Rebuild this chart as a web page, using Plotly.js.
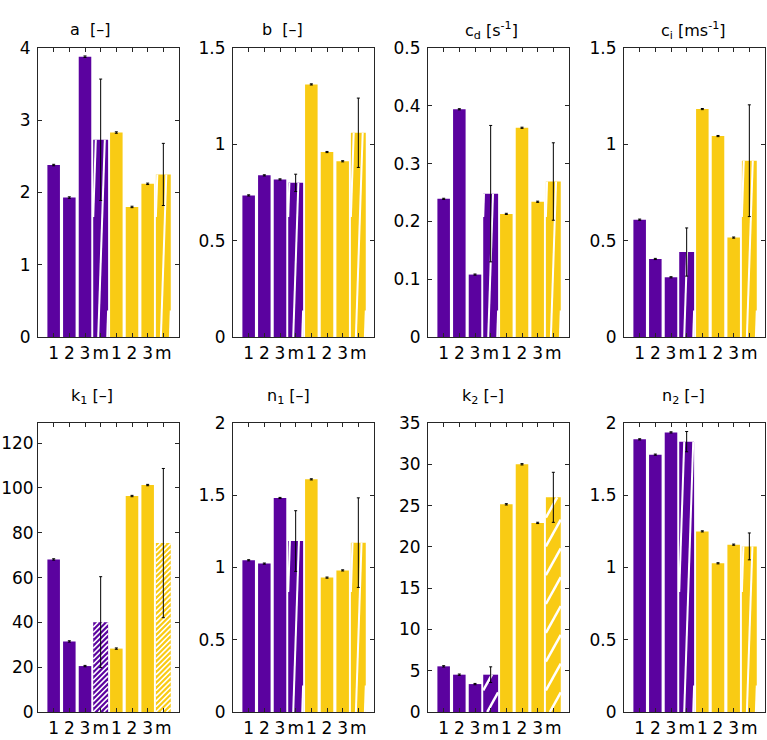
<!DOCTYPE html>
<html>
<head>
<meta charset="utf-8">
<script src="https://cdn.plot.ly/plotly-3.0.1.min.js"></script>
<style>html,body{margin:0;padding:0;background:#fff;}#chart{width:767px;height:740px;}</style>
</head>
<body>
<div id="chart"></div>
<script>
// ---------- data ----------
const barLabels = ['1','2','3','m','1','2','3','m'];
const barGroups = ['purple','purple','purple','purple','yellow','yellow','yellow','yellow'];

const aVals  = [2.38, 1.93, 3.88, 2.73, 2.83, 1.80, 2.12, 2.25];
const aErr   = [0.01, 0.01, 0.01, 0.84, 0.01, 0.01, 0.01, 0.43];
const bVals  = [0.735, 0.839, 0.818, 0.800, 1.311, 0.960, 0.912, 1.060];
const bErr   = [0.003, 0.003, 0.003, 0.045, 0.003, 0.003, 0.003, 0.180];
const cdVals = [0.239, 0.394, 0.108, 0.248, 0.213, 0.362, 0.234, 0.269];
const cdErr  = [0.001, 0.001, 0.001, 0.118, 0.001, 0.001, 0.001, 0.067];
const ciVals = [0.609, 0.405, 0.310, 0.441, 1.183, 1.043, 0.516, 0.915];
const ciErr  = [0.003, 0.003, 0.003, 0.125, 0.003, 0.003, 0.003, 0.290];
const k1Vals = [68.1, 31.5, 20.5, 40.1, 28.3, 96.4, 101.3, 75.4];
const k1Err  = [0.3, 0.3, 0.3, 20.3, 0.3, 0.3, 0.3, 33.3];
const n1Vals = [1.050, 1.027, 1.481, 1.183, 1.610, 0.930, 0.980, 1.172];
const n1Err  = [0.004, 0.004, 0.004, 0.210, 0.004, 0.004, 0.004, 0.310];
const k2Vals = [5.53, 4.52, 3.38, 4.52, 25.15, 30.0, 22.9, 26.0];
const k2Err  = [0.08, 0.08, 0.08, 0.95, 0.08, 0.08, 0.08, 3.03];
const n2Vals = [1.887, 1.781, 1.935, 1.871, 1.250, 1.029, 1.158, 1.146];
const n2Err  = [0.004, 0.004, 0.004, 0.070, 0.004, 0.004, 0.004, 0.093];

const panelTitles = ['a\u00a0\u00a0[\u2013]', 'b\u00a0\u00a0[\u2013]', 'c<sub>d</sub> [s<sup>-1</sup>]', 'c<sub>i</sub> [ms<sup>-1</sup>]',
                     'k<sub>1</sub> [\u2013]', 'n<sub>1</sub> [\u2013]', 'k<sub>2</sub> [\u2013]', 'n<sub>2</sub> [\u2013]'];
const yTickSets = [[0,1,2,3,4],[0,0.5,1,1.5],[0,0.1,0.2,0.3,0.4,0.5],[0,0.5,1,1.5],
                   [0,20,40,60,80,100,120],[0,0.5,1,1.5,2],[0,5,10,15,20,25,30,35],[0,0.5,1,1.5,2]];
const yMax = [4, 1.5, 0.5, 1.5, 129, 2, 35, 2];

const allVals = [aVals,bVals,cdVals,ciVals,k1Vals,n1Vals,k2Vals,n2Vals];
const allErr  = [aErr,bErr,cdErr,ciErr,k1Err,n1Err,k2Err,n2Err];

// ---------- layout / style ----------
const W = 767, H = 740;
const colLeft = [38, 233, 428, 624], rowTop = [48, 423];
const axW = 141, axH = 289;
const titleX = [89.5, 282, 491.5, 693.5, 92, 288.5, 483, 683];
const titleY = [29, 29, 30, 30, 397, 397, 397, 397];
const yStandoff = [3, 3, 3, 3, 0, 3, 3, 3];
const colors = {purple:'#5B029F', yellow:'#F9CB14'};
const axisColor = '#262626';
const font = 'DejaVu Sans, Liberation Sans, Arial, sans-serif';
// hatch styles per panel: slope (px/px), horizontal spacing (px), offset (px), line width
const hatchStyle = [
  {s:30, hs:9, off:5, lw:2}, {s:30, hs:9, off:5, lw:2}, {s:30, hs:9, off:5, lw:2}, {s:30, hs:9, off:5, lw:2},
  {s:1.0, hs:5.3, off:0, lw:1.6}, {s:30, hs:9, off:5, lw:2}, {s:1.8, hs:16, off:4, lw:2.5}, {s:30, hs:9, off:5, lw:2}
];
const barW = [0.8,0.8,0.8,0.95,0.8,0.8,0.8,0.95];
const xPos = barLabels.map((_, i) => i + 1);

const traces = [];
const layout = {
  width: W, height: H, margin:{l:0,r:0,t:0,b:0},
  paper_bgcolor:'#fff', plot_bgcolor:'#fff', showlegend:false,
  font:{family:font, color:'#000'}, annotations:[]
};

function hatch(p, xc, w, h, st) {
  const ppx = axW / 9, ppy = axH / yMax[p];
  const xl = (xc - w/2) * ppx, bw = w * ppx, Hb = h * ppy;
  const xs = [], ys = [];
  const kMin = Math.floor((-Hb / st.s - st.off) / st.hs) - 1;
  const kMax = Math.ceil((bw - st.off) / st.hs) + 1;
  for (let k = kMin; k <= kMax; k++) {
    const x0 = st.off + k * st.hs;
    const u0 = Math.max(0, x0), u1 = Math.min(bw, x0 + Hb / st.s);
    if (u1 <= u0) continue;
    xs.push((xl + u0) / ppx, (xl + u1) / ppx, null);
    ys.push(st.s * (u0 - x0) / ppy, st.s * (u1 - x0) / ppy, null);
  }
  return {xs, ys};
}

for (let p = 0; p < 8; p++) {
  const row = Math.floor(p / 4), col = p % 4;
  const xa = 'x' + (p + 1), ya = 'y' + (p + 1);
  const vals = allVals[p], err = allErr[p];
  traces.push({
    type:'bar', x:xPos, y:vals, width:barW, xaxis:xa, yaxis:ya,
    marker:{color:barGroups.map(g => colors[g]), line:{width:0}}, hoverinfo:'skip'
  });
  const hx = [], hy = [];
  barLabels.forEach((lab, i) => {
    if (lab !== 'm') return;
    const r = hatch(p, xPos[i], barW[i], vals[i], hatchStyle[p]);
    hx.push(...r.xs); hy.push(...r.ys);
  });
  traces.push({type:'scatter', mode:'lines', x:hx, y:hy, xaxis:xa, yaxis:ya,
    line:{color:'#fff', width:hatchStyle[p].lw}, hoverinfo:'skip', connectgaps:false});
  traces.push({type:'scatter', mode:'markers', x:xPos, y:vals, xaxis:xa, yaxis:ya,
    marker:{size:1, color:'rgba(0,0,0,0)'}, hoverinfo:'skip',
    error_y:{type:'data', array:err, visible:true, color:'#000', thickness:1, width:1.5}});

  const x0 = colLeft[col] / W, x1 = (colLeft[col] + axW) / W;
  const y1 = 1 - rowTop[row] / H, y0 = 1 - (rowTop[row] + axH) / H;
  const common = {showline:true, mirror:'ticks', linecolor:axisColor, linewidth:1,
    ticks:'inside', ticklen:4, tickcolor:axisColor, tickwidth:1, showgrid:false, zeroline:false,
    tickfont:{family:font, size:17, color:'#000'}, fixedrange:true};
  layout['xaxis' + (p + 1)] = Object.assign({}, common, {
    domain:[x0, x1], anchor:ya, range:[0, 9], tickmode:'array', tickvals:xPos, ticktext:barLabels,
    tickangle:0, ticklabelstandoff:1});
  layout['yaxis' + (p + 1)] = Object.assign({}, common, {
    domain:[y0, y1], anchor:xa, range:[0, yMax[p]], tickmode:'array', tickvals:yTickSets[p],
    ticklabelstandoff:yStandoff[p]});
  layout.annotations.push({text:panelTitles[p], xref:'paper', yref:'paper',
    x:titleX[p] / W, y:1 - titleY[p] / H, xanchor:'center', yanchor:'middle', showarrow:false,
    font:{family:font, size:16, color:'#000'}});
}

Plotly.newPlot('chart', traces, layout, {staticPlot:true, displayModeBar:false});
</script>
</body>
</html>
